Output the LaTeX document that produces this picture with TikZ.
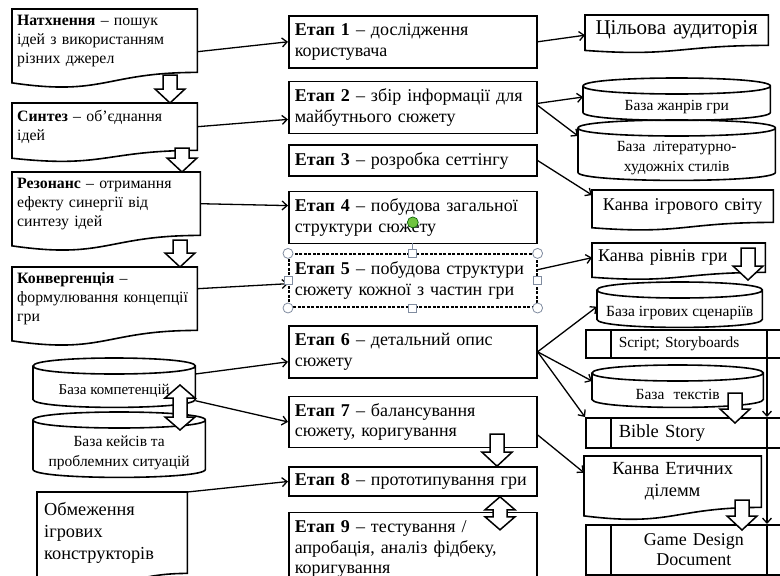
\documentclass[tikz,border=0pt]{standalone}
\usepackage{fontspec}
\setmainfont{Liberation Serif}
\usetikzlibrary{positioning,arrows.meta,calc}
\definecolor{handlegray}{RGB}{128,140,160}
\definecolor{handlegreen}{RGB}{112,196,64}

\begin{document}
\begin{tikzpicture}[x=1pt,y=-1pt,
        stage/.style={
             rectangle
            , draw
            , line width=1.6pt
            , align=left
            , anchor=north west
            , text width=236pt
            , inner xsep=6pt
            , inner ysep=0pt
            , font=\fontsize{18}{20.5}\selectfont
        },
        docbox/.style={
             rectangle
            , align=left
            , anchor=north west
            , inner xsep=5pt
            , inner ysep=0pt
            , font=\fontsize{15.8}{19}\selectfont
        },
        dbase/.style={
             rectangle
            , align=center
            , anchor=north west
            , inner sep=0pt
            , font=\fontsize{15.5}{20}\selectfont
        },
        sheet/.style={
             rectangle
            , draw
            , line width=1.6pt
            , anchor=north west
            , minimum width=216pt
            , inner xsep=33pt
            , inner ysep=0pt
            , text width=150pt
            , align=left
        },
        docline/.style={line width=1.6pt},
        link/.style={line width=1.3pt, -{Straight Barb[length=5pt,width=9pt]}},
        blockline/.style={line width=1.5pt, fill=white},
        handle/.style={draw=handlegray, fill=white, line width=0.8pt},
        pics/downarr/.style={code={
            \draw[blockline] (-7,0) -- (7,0) -- (7,#1-14) -- (15,#1-14) -- (0,#1)
              -- (-15,#1-14) -- (-7,#1-14) -- cycle;}},
        pics/bothwayarr/.style={code={
            \draw[blockline] (0,0) -- (15,13) -- (7,13) -- (7,#1-13) -- (15,#1-13) -- (0,#1)
              -- (-15,#1-13) -- (-7,#1-13) -- (-7,13) -- (-15,13) -- cycle;}}
        ]
        \useasboundingbox (0,0) rectangle (780,576);
        \clip (0,0) rectangle (780,576);

        % stages
        \node[stage, minimum height=52pt] (stage1) at (288,15) {\textbf{Етап 1} – дослідження\\користувача};
        \node[stage, minimum height=52pt, below=12pt of stage1] (stage2) {\textbf{Етап 2} – збір інформації для\\майбутнього сюжету};
        \node[stage, minimum height=31pt, below=10pt of stage2] (stage3) {\textbf{Етап 3} – розробка сеттінгу};
        \node[stage, minimum height=52pt, below=14pt of stage3] (stage4) {\textbf{Етап 4} – побудова загальної\\структури сюжету};
        \node[stage, minimum height=53pt, below=9pt of stage4, dash pattern=on 3pt off 1.5pt] (stage5) {\textbf{Етап 5} – побудова структури\\сюжету кожної з частин гри};
        \node[stage, minimum height=52pt, below=17pt of stage5] (stage6) {\textbf{Етап 6} – детальний опис\\сюжету};
        \node[stage, minimum height=51pt, below=17pt of stage6] (stage7) {\textbf{Етап 7} – балансування\\сюжету, коригування};
        \node[stage, minimum height=29pt, below=18pt of stage7] (stage8) {\textbf{Етап 8} – прототипування гри};
        \node[stage, minimum height=73pt, below=15pt of stage8] (stage9) {\textbf{Етап 9} – тестування /\\апробація, аналіз фідбеку,\\коригування};

        % left documents
        \node[docbox, text width=175pt, minimum height=63pt] (insp) at (12,9) {\textbf{Натхнення} – пошук\\ідей з використанням\\різних джерел};
        \node[docbox, text width=175pt, minimum height=47pt] (synth) at (12,103) {\textbf{Синтез} – об’єднання\\ідей};
        \node[docbox, text width=178pt, minimum height=63pt] (reson) at (12,172) {\textbf{Резонанс} – отримання\\ефекту синергії від\\синтезу ідей};
        \node[docbox, text width=175pt, minimum height=63pt] (conv) at (12,267) {\textbf{Конвергенція} –\\формулювання концепції\\гри};
        \node[docbox, text width=136pt, minimum height=81pt, inner xsep=7pt, font=\fontsize{18.3}{22}\selectfont] (limits) at (37,492) {Обмеження\\ігрових\\конструкторів};

        % right documents
        \node[docbox, text width=173pt, minimum height=30pt, align=center, font=\fontsize{21}{22}\selectfont] (audience) at (585,15) {Цільова аудиторія};
        \node[docbox, text width=171pt, minimum height=32pt, align=center, font=\fontsize{18}{22}\selectfont] (world) at (592,190) {Канва ігрового світу};
        \node[docbox, text width=161pt, minimum height=29pt, inner xsep=6pt, font=\fontsize{18}{22}\selectfont] (levels) at (592,243) {Канва рівнів гри};
        \node[docbox, text width=167pt, minimum height=51pt, align=center, font=\fontsize{18.5}{22}\selectfont] (ethics) at (584,456) {Канва Етичних\\ділемм};

        % databases
        \node[dbase, minimum width=162pt, minimum height=33pt, font=\fontsize{15}{20}\selectfont] (comp) at (33,374) {База компетенцій};
        \node[dbase, minimum width=172pt, minimum height=49pt] (cases) at (33,428) {База кейсів та\\проблемних ситуацій};
        \node[dbase, minimum width=187pt, minimum height=26pt] (genres) at (583,94) {База жанрів гри};
        \node[dbase, minimum width=197pt, minimum height=44pt] (literary) at (578,136) {База\hspace{0.5em}літературно-\\художніх стилів};
        \node[dbase, minimum width=165pt, minimum height=29pt] (scen) at (597,298) {База ігрових сценаріїв};
        \node[dbase, minimum width=171pt, minimum height=26pt] (texts) at (592,381) {База\hspace{0.6em}текстів};

        % predefined sheets
        \node[sheet, minimum height=28pt, font=\fontsize{15.4}{18}\selectfont] (script) at (585,329) {Script; Storyboards};
        \node[sheet, minimum height=30pt, font=\fontsize{18.5}{20}\selectfont] (bible) at (585,417) {Bible Story};
        \node[sheet, minimum height=50pt, align=center, font=\fontsize{18}{19.5}\selectfont] (gdd) at (585,524) {Game Design\\Document};

        \foreach \c in {insp,synth,reson,conv,limits,audience,world,levels,ethics}
            \draw[docline] let \p1=(\c.north west), \p2=(\c.south east) in
                (\p1) -- (\x2,\y1) -- (\p2)
                .. controls ({(\x1+\x2)/2},\y2) and ({(\x1+\x2)/2},{\y1-1.38*(\y1-\y2)}) ..
                (\x1,{\y1-1.165*(\y1-\y2)}) -- cycle;

        \foreach \c in {comp,cases,genres,literary,scen,texts}
            \draw[docline] let \p1=(\c.north west), \p2=(\c.south east) in
                (\x1,\y1+8pt) -- (\x1,\y2+8pt)
                .. controls (\x1,\y2-2.67pt) and (\x2,\y2-2.67pt) .. (\x2,\y2+8pt)
                -- (\x2,\y1+8pt)
                .. controls (\x2,\y1+18.67pt) and (\x1,\y1+18.67pt) .. (\x1,\y1+8pt)
                .. controls (\x1,\y1-2.67pt) and (\x2,\y1-2.67pt) .. (\x2,\y1+8pt);

        \foreach \c in {script,bible,gdd} {
            \draw[docline] ([xshift=26pt]\c.north west) -- ([xshift=26pt]\c.south west);
            \draw[docline] ([xshift=182pt]\c.north west) -- ([xshift=182pt]\c.south west);
        }

        % links into the stages
        \draw[link] ([yshift=-11pt]insp.east) -- (stage1.west);
        \draw[link] (synth.east) -- ([yshift=-12pt]stage2.west);
        \draw[link] (reson.east) -- ([yshift=12pt]stage4.west);
        \draw[link] ([yshift=10pt]conv.east) -- ([yshift=-3pt]stage5.west);
        \draw[link] (comp.north east) -- ([yshift=-10pt]stage6.west);
        \draw[link] ([yshift=-10pt]comp.east) -- (stage7.west);
        \draw[link] (limits.north east) -- (stage8.west);

        % links out of the stages
        \draw[link] (stage1.east) -- ([yshift=-5pt]audience.west);
        \draw[link] ([yshift=4pt]stage2.east) -- ([yshift=-3pt]genres.north west);
        \draw[link] ([yshift=2pt]stage2.east) -- (literary.north west);
        \draw[link] (stage3.east) -- ([yshift=-5pt]world.north west);
        \draw[link] ([yshift=11pt]stage5.east) -- (levels.west);
        \draw[link] (stage6.east) -- ([yshift=6pt]scen.west);
        \draw[link] (stage6.east) -- (texts.north west);
        \draw[link] (stage6.east) -- (bible.north west);
        \draw[link] ([yshift=-13pt]stage7.east) -- ([yshift=9pt]ethics.west);
        \draw[link] ([xshift=182pt]script.south west) -- ([xshift=182pt]bible.north west);
        \draw[link] ([xshift=182pt]bible.south west) -- ([xshift=182pt]gdd.north west);

        % block arrows
        \pic at ([xshift=158pt,yshift=28pt]synth.north west) {downarr=28};
        \pic at ([xshift=170pt,yshift=24pt]reson.north west) {downarr=24};
        \pic at ([xshift=168pt,yshift=27pt]conv.north west) {downarr=27};
        \pic at ([xshift=209pt,yshift=32pt]stage8.north west) {downarr=32};
        \pic at ([xshift=212pt]stage8.south west) {bothwayarr=33};
        \pic at ([xshift=147pt,yshift=-11pt]comp.north west) {bothwayarr=45};
        \pic at ([xshift=156pt,yshift=-5pt]levels.north west) {downarr=32};
        \pic at ([xshift=143pt,yshift=-12pt]texts.north west) {downarr=30};
        \pic at ([xshift=158pt,yshift=-44pt]ethics.north west) {downarr=30};

        % selection handles
        \draw[handle] (stage5.north) -- ([yshift=10pt]stage5.north);
        \draw[draw=green!35!black, fill=handlegreen, line width=0.6pt] ([yshift=31pt]stage5.north) circle[radius=5.5pt];
        \foreach \a in {north west,north east,south west,south east}
            \draw[handle] (stage5.\a) circle[radius=5pt];
        \foreach \a in {north,south,west,east}
            \draw[handle] ([xshift=-4pt,yshift=-4pt]stage5.\a) rectangle ([xshift=4pt,yshift=4pt]stage5.\a);
    \end{tikzpicture}
\end{document}
